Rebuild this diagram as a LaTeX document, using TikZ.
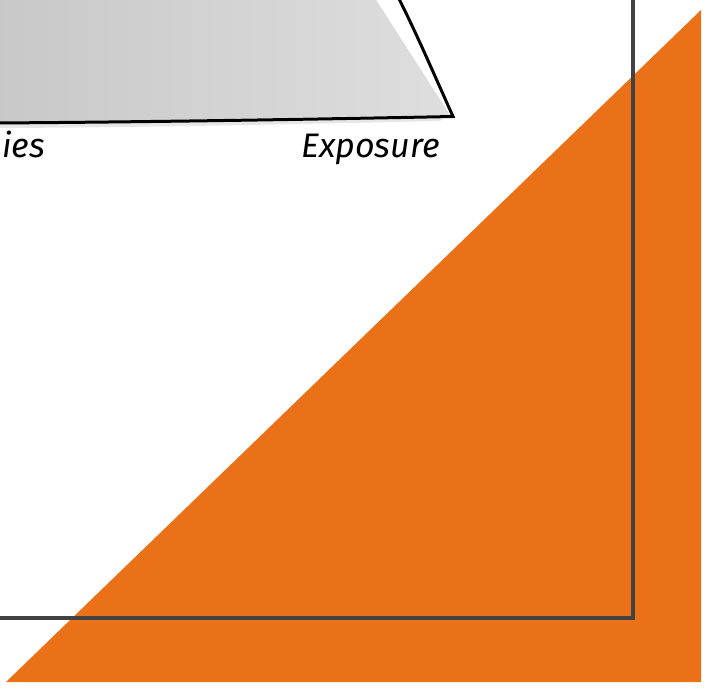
\documentclass[tikz,border=0pt]{standalone}
\usepackage{fontspec}
\setmainfont{Fira Sans}
\definecolor{orng}{RGB}{235,113,24}
\definecolor{frm}{RGB}{66,66,66}
\definecolor{gA}{RGB}{200,200,200}
\definecolor{gB}{RGB}{222,222,222}
\definecolor{shd}{RGB}{230,230,230}
\begin{document}
\begin{tikzpicture}[x=1pt,y=-1pt,
  lbl/.style={font=\fontsize{34}{37}\selectfont\itshape, inner sep=0pt, text=black},
  outline/.style={draw=black, line width=3pt, line join=miter},
  framebox/.style={draw=frm, line width=4pt}]
\useasboundingbox (0,0) rectangle (718,692);
\clip (0,0) rectangle (718,692);
% orange triangle
\fill[orng] (701,10) -- (701,682) -- (6,682) -- cycle;
% frame
\coordinate (fl) at (-10,618);
\coordinate (fc) at (633,618);
\coordinate (ft) at (633,-10);
\draw[framebox] (fl) -- (fc) -- (ft);
% shadow under base
\fill[shd] (-5,123) .. controls (150,122) and (300,119) .. (445,117) -- (440,121) .. controls (300,124) and (150,127.5) .. (-5,128) -- cycle;
% gray fill
\shade[left color=gA, right color=gB] (-5,-5) -- (373,-5) -- (450,115) .. controls (300,117) and (150,121) .. (-5,123) -- cycle;
% outline
\coordinate (bl) at (-5,123);
\coordinate (cr) at (453,116.5);
\coordinate (tr) at (397,-5);
\draw[outline] (bl) .. controls (150,122) and (300,119.5) .. (cr) .. controls (433,72) and (415,30) .. (tr);
% labels
\node[lbl, anchor=base west] (ies) at (2,158) {ies};
\node[lbl, anchor=base west] (exp) at (301,158) {Exposure};
\end{tikzpicture}
\end{document}
